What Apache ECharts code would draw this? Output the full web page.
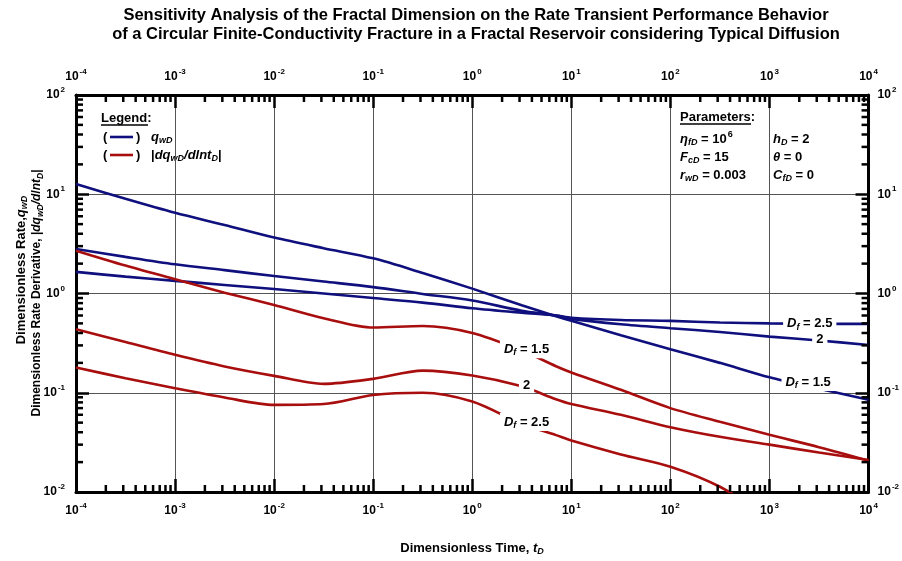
<!DOCTYPE html>
<html><head><meta charset="utf-8">
<script src="https://cdn.jsdelivr.net/npm/echarts@6/dist/echarts.min.js"></script>
<style>html,body{margin:0;padding:0;background:#fff}#c{width:902px;height:561px}</style>
</head><body><div id="c"></div>
<script>
// ---------- data ----------
const tValues = [0.0001, 0.000316, 0.001, 0.00316, 0.01, 0.0316, 0.1, 0.316, 1, 3.16, 7, 10, 31.6, 100, 316, 1000, 3160, 10000];
const qwD_Df15 = [12.7, 9.0, 6.5, 4.9, 3.66, 2.86, 2.26, 1.61, 1.12, 0.76, 0.59, 0.53, 0.38, 0.275, 0.20, 0.143, 0.11, 0.085];
const qwD_Df20 = [2.81, 2.34, 1.97, 1.72, 1.50, 1.32, 1.16, 0.99, 0.85, 0.67, 0.60, 0.555, 0.49, 0.447, 0.41, 0.368, 0.336, 0.303];
const qwD_Df25 = [1.65, 1.48, 1.34, 1.22, 1.11, 1.0, 0.90, 0.81, 0.71, 0.64, 0.60, 0.57, 0.54, 0.53, 0.51, 0.50, 0.495, 0.494];
const der_Df15 = [2.70, 1.91, 1.39, 1.02, 0.767, 0.564, 0.454, 0.470, 0.40, 0.266, 0.185, 0.16, 0.107, 0.070, 0.051, 0.0377, 0.0283, 0.0207];
const der_Df20 = [0.436, 0.324, 0.241, 0.184, 0.148, 0.123, 0.138, 0.167, 0.149, 0.116, 0.086, 0.077, 0.060, 0.045, 0.036, 0.030, 0.025, 0.021];
const der_Df25 = [0.18, 0.14, 0.111, 0.0895, 0.0755, 0.077, 0.095, 0.100, 0.0815, 0.0486, 0.0374, 0.033, 0.0239, 0.018, 0.0113, 0.0055, null, null];
// curve annotations: [t, value, Df text, with "Df =" prefix]
const blueLabels = [[2550, 0.494, '2.5', true], [3220, 0.341, '2', false], [2455, 0.128, '1.5', true]];
const redLabels = [[3.53, 0.275, '1.5', true], [3.53, 0.118, '2', false], [3.53, 0.0506, '2.5', true]];
const xMin = 1e-4, xMax = 1e4, yMin = 1e-2, yMax = 1e2;

// ---------- styling ----------
const FONT = '"Liberation Sans", Arial, Helvetica, sans-serif';
const BLUE = '#0f0f7d', RED = '#a80e0e';
const pair = arr => tValues.map((t, i) => [t, arr[i]]);

const expRich = {
  b: {fontSize: 12, fontWeight: 'bold', fontFamily: FONT, color: '#000'},
  s: {fontSize: 8, fontWeight: 'bold', fontFamily: FONT, color: '#000', padding: [0, 0, 10, 1]}
};
function expFmt(v) { const e = Math.round(Math.log10(v)); return '{b|10}{s|' + e + '}'; }

function logAxis(pos, min, max, split, grid, margin) {
  return {
    type: 'log', logBase: 10, min: min, max: max, splitNumber: split, position: pos,
    axisLine: {show: true, onZero: false, lineStyle: {color: '#000', width: 3}},
    axisTick: {show: true, inside: true, length: 13, lineStyle: {color: '#000', width: 2.5}},
    minorTick: {show: false},
    axisLabel: {show: true, margin: margin, formatter: expFmt, rich: expRich, showMinLabel: true, showMaxLabel: true},
    splitLine: {show: grid, lineStyle: {color: '#555', width: 1}}
  };
}

// minor tick positions (2..9 per decade)
const minorX = [], minorY = [];
for (let e = -4; e < 4; e++) for (let m = 2; m <= 9; m++) minorX.push([m * Math.pow(10, e), yMin]);
for (let e = -2; e < 2; e++) for (let m = 2; m <= 9; m++) minorY.push([xMin, m * Math.pow(10, e)]);
const TL = 7;
function tickLine(x1, y1, x2, y2) { return {type: 'line', shape: {x1, y1, x2, y2}, style: {stroke: '#000', lineWidth: 2.5}}; }

function lineSeries(name, arr, color) {
  return {name, type: 'line', data: pair(arr), showSymbol: false, smooth: 0.3,
    lineStyle: {color, width: 2.6}, itemStyle: {color}, z: 3, connectNulls: false, clip: true, silent: true};
}
const lr = {
  d: {fontSize: 13, fontWeight: 'bold', fontStyle: 'italic', fontFamily: FONT, fill: '#000'},
  f: {fontSize: 9, fontWeight: 'bold', fontStyle: 'italic', fontFamily: FONT, fill: '#000', padding: [7, 0, 0, 0]},
  t: {fontSize: 13, fontWeight: 'bold', fontFamily: FONT, fill: '#000'}
};
function labelSeries(list) {
  return {type: 'custom', z: 6, silent: true, clip: false, data: list.map(d => [d[0], d[1]]), encode: {x: 0, y: 1},
    renderItem: (p, api) => {
      const d = list[p.dataIndex];
      const c = api.coord([api.value(0), api.value(1)]);
      return {type: 'text', x: c[0], y: c[1], style: {
        text: d[3] ? '{d|D}{f|f}{t| = ' + d[2] + '}' : '{t|' + d[2] + '}', rich: lr,
        textAlign: 'center', textVerticalAlign: 'middle', backgroundColor: '#fff', padding: [1, 4, 1, 4], fill: '#000'}};
    }};
}

const rt = {
  b: {fontSize: 13, fontWeight: 'bold', fontFamily: FONT, fill: '#000'},
  i: {fontSize: 13, fontWeight: 'bold', fontStyle: 'italic', fontFamily: FONT, fill: '#000'},
  sub: {fontSize: 9, fontWeight: 'bold', fontStyle: 'italic', fontFamily: FONT, fill: '#000', padding: [7, 0, 0, 0]},
  sup: {fontSize: 9, fontWeight: 'bold', fontFamily: FONT, fill: '#000', padding: [0, 0, 9, 1]},
  b2: {fontSize: 12, fontWeight: 'bold', fontFamily: FONT, fill: '#000'},
  i2: {fontSize: 12, fontWeight: 'bold', fontStyle: 'italic', fontFamily: FONT, fill: '#000'},
  sub2: {fontSize: 8.5, fontWeight: 'bold', fontStyle: 'italic', fontFamily: FONT, fill: '#000', padding: [7, 0, 0, 0]}
};
function rtext(x, y, text, extra) {
  return Object.assign({type: 'text', x, y, silent: true, style: {text, rich: rt, fontSize: 13, fontWeight: 'bold', fontFamily: FONT, fill: '#000', textVerticalAlign: 'middle'}}, extra || {});
}
function ln(x1, y1, x2, y2, c, w) { return {type: 'line', silent: true, shape: {x1, y1, x2, y2}, style: {stroke: c, lineWidth: w}}; }
function title(y, text) {
  return {type: 'text', x: 476, y, silent: true, style: {text, fontSize: 16.5, fontWeight: 'bold', fontFamily: FONT, fill: '#000', textAlign: 'center', textVerticalAlign: 'middle'}};
}

const chart = echarts.init(document.getElementById('c'));
chart.setOption({
  animation: false,
  backgroundColor: '#fff',
  grid: {left: 76, right: 33, top: 95, bottom: 69},
  xAxis: [logAxis('bottom', xMin, xMax, 8, true, 10), logAxis('top', xMin, xMax, 8, false, 9)],
  yAxis: [logAxis('left', yMin, yMax, 4, true, 11), logAxis('right', yMin, yMax, 4, false, 9)],
  series: [
    lineSeries('qDf15', qwD_Df15, BLUE), lineSeries('qDf20', qwD_Df20, BLUE), lineSeries('qDf25', qwD_Df25, BLUE),
    lineSeries('dDf15', der_Df15, RED), lineSeries('dDf20', der_Df20, RED), lineSeries('dDf25', der_Df25, RED),
    labelSeries(blueLabels), labelSeries(redLabels),
    {type: 'custom', silent: true, z: 4, data: minorX, encode: {x: 0, y: 1}, clip: false,
      renderItem: (p, api) => {
        const b = api.coord([api.value(0), yMin]), t = api.coord([api.value(0), yMax]);
        return {type: 'group', children: [tickLine(b[0], b[1], b[0], b[1] - TL), tickLine(t[0], t[1], t[0], t[1] + TL)]};
      }},
    {type: 'custom', silent: true, z: 4, data: minorY, encode: {x: 0, y: 1}, clip: false,
      renderItem: (p, api) => {
        const l = api.coord([xMin, api.value(1)]), r = api.coord([xMax, api.value(1)]);
        return {type: 'group', children: [tickLine(l[0], l[1], l[0] + TL, l[1]), tickLine(r[0], r[1], r[0] - TL, r[1])]};
      }}
  ],
  graphic: [
    title(15, 'Sensitivity Analysis of the Fractal Dimension on the Rate Transient Performance Behavior'),
    title(34, 'of a Circular Finite-Conductivity Fracture in a Fractal Reservoir considering Typical Diffusion'),
    {type: 'text', x: 472, y: 548, silent: true, style: {text: '{b|Dimensionless Time, }{i|t}{sub|D}', rich: rt, textAlign: 'center', textVerticalAlign: 'middle'}},
    {type: 'text', x: 21, y: 270, rotation: Math.PI / 2, silent: true, style: {text: '{b|Dimensionless Rate,}{i|q}{sub|wD}', rich: rt, textAlign: 'center', textVerticalAlign: 'middle'}},
    {type: 'text', x: 37, y: 293, rotation: Math.PI / 2, silent: true, style: {text: '{b2|Dimensionless Rate Derivative, |}{i2|dq}{sub2|wD}{i2|/dlnt}{sub2|D}{b2||}', rich: rt, textAlign: 'center', textVerticalAlign: 'middle'}},
    // legend
    rtext(101, 118, '{b|Legend:}'),
    ln(101, 125, 148, 125, '#000', 1.5),
    rtext(103, 137, '{b|(}'), ln(110, 137, 133, 137, BLUE, 2.6), rtext(136, 137, '{b|)}'),
    rtext(151, 137, '{i|q}{sub|wD}'),
    rtext(103, 155, '{b|(}'), ln(110, 155, 133, 155, RED, 2.6), rtext(136, 155, '{b|)}'),
    rtext(151, 155, '{b||}{i|dq}{sub|wD}{i|/dlnt}{sub|D}{b||}'),
    // parameters
    rtext(680, 117, '{b|Parameters:}'),
    ln(680, 124, 751, 124, '#000', 1.5),
    rtext(680, 139, '{i|η}{sub|fD}{b| = 10}{sup|6}'),
    rtext(680, 157, '{i|F}{sub|cD}{b| = 15}'),
    rtext(680, 175, '{i|r}{sub|wD}{b| = 0.003}'),
    rtext(773, 139, '{i|h}{sub|D}{b| = 2}'),
    rtext(773, 157, '{i|θ}{b| = 0}'),
    rtext(773, 175, '{i|C}{sub|fD}{b| = 0}')
  ]
});
</script></body></html>
